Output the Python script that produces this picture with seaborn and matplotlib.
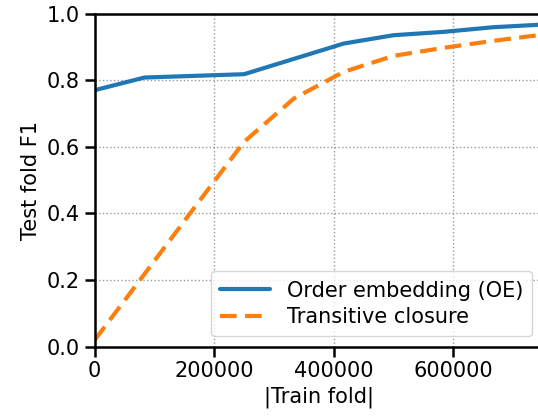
import numpy as np
import pandas as pd
import matplotlib
matplotlib.use('Agg')
import matplotlib.pyplot as plt
import seaborn as sns

# Data
train_size = [0, 83333, 166667, 250000, 333333, 416667, 500000, 583333, 666667, 750000]
oe_f1 = [0.770, 0.808, 0.813, 0.818, 0.864, 0.910, 0.935, 0.945, 0.959, 0.967]
tc_f1 = [0.020, 0.218, 0.417, 0.615, 0.745, 0.825, 0.873, 0.897, 0.918, 0.937]

sns.set_style('ticks', {'axes.grid': True, 'grid.linestyle': ':', 'grid.color': '#999999',
                        'axes.edgecolor': 'black', 'text.color': 'black',
                        'axes.labelcolor': 'black', 'xtick.color': 'black',
                        'ytick.color': 'black'})
plt.rcParams['font.family'] = ['DejaVu Sans']
plt.rcParams['font.size'] = 15

df = pd.DataFrame({
    'train': train_size * 2,
    'f1': oe_f1 + tc_f1,
    'method': ['Order embedding (OE)'] * len(train_size) + ['Transitive closure'] * len(train_size),
})

fig = plt.figure(figsize=(5.38, 4.19), dpi=100)
ax = fig.add_axes([0.176, 0.1726, 0.833, 0.795])
sns.lineplot(data=df, x='train', y='f1', hue='method', style='method',
             palette=['#1f77b4', '#ff7f0e'], dashes=[(None, None), (4, 2)],
             linewidth=3, ax=ax)

ax.set_xlim(0, 750000)
ax.set_ylim(0, 1.0)
ax.set_xticks([0, 200000, 400000, 600000])
ax.set_yticks([0.0, 0.2, 0.4, 0.6, 0.8, 1.0])
ax.set_xlabel('|Train fold|', fontsize=15, color='black')
ax.set_ylabel('Test fold F1', fontsize=15, color='black')
ax.tick_params(labelsize=15, length=7, width=1.8, direction='out', colors='black')
ax.grid(True, linestyle=':', color='#999999', linewidth=1)
for s in ax.spines.values():
    s.set_linewidth(1.8)

leg = ax.legend(loc='lower right', fontsize=15, frameon=True, handlelength=2.4,
                borderpad=0.45, labelspacing=0.3, edgecolor='#cccccc')
leg.set_title(None)
for t in leg.get_texts():
    t.set_color('black')

fig.savefig('out.png', dpi=100)
